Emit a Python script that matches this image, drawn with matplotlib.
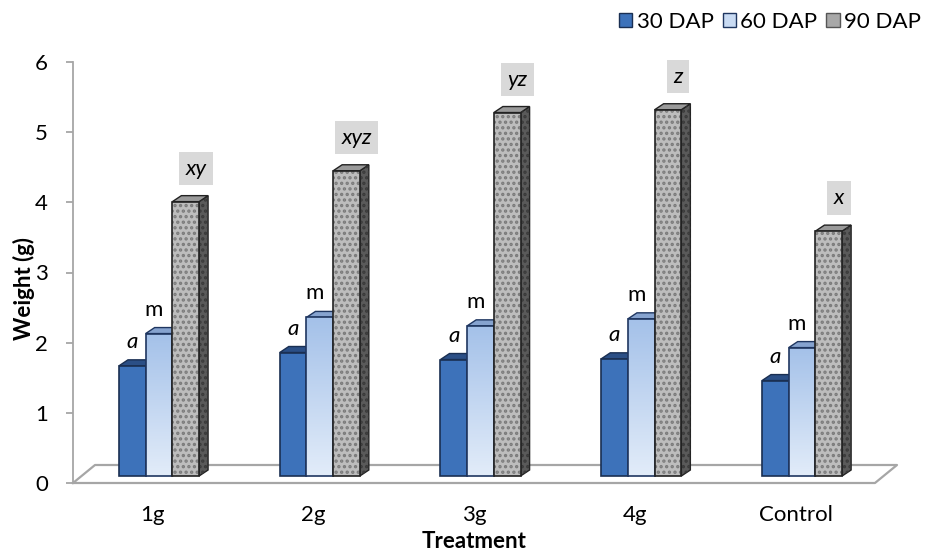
import numpy as np
import matplotlib
matplotlib.use("Agg")
import matplotlib.pyplot as plt
from matplotlib.patches import Rectangle, Polygon, Patch
from matplotlib.colors import LinearSegmentedColormap

treatments = ["1g", "2g", "3g", "4g", "Control"]
series_names = ["30 DAP", "60 DAP", "90 DAP"]
dap30 = [1.57, 1.76, 1.66, 1.67, 1.36]
dap60 = [2.03, 2.26, 2.14, 2.24, 1.83]
dap90 = [3.91, 4.35, 5.18, 5.22, 3.49]
lab30 = ["a", "a", "a", "a", "a"]
lab60 = ["m", "m", "m", "m", "m"]
lab90 = ["xy", "xyz", "yz", "z", "x"]

plt.rcParams['font.family'] = ['Lato', 'DejaVu Sans']
plt.rcParams['hatch.linewidth'] = 1.6

fig = plt.figure(figsize=(9.25, 5.53), dpi=100)
ax = fig.add_axes([73 / 925, 1 - 483 / 553, 824 / 925, 421 / 553])
x0, x1 = -0.4946, 4.631
ax.set_xlim(x0, x1)
ax.set_ylim(0, 6)

# pixel -> data helpers
px = 1 / 160.75
py = 6 / 421.0

w = 26.7 * px
dx, dy = 9 * px, 6 * py
base = 7 * py
shift = 6.5 * px

# floor
fx = [x0, 4.494, x1, x0 + 22 * px, x0]
fy = [0, 0, 18 * py, 18 * py, 0]
ax.fill(fx, fy, color="white", zorder=1, clip_on=False)
ax.plot(fx, fy, color="#a6a6a6", lw=1.6, zorder=1.5, clip_on=False)

grad60 = LinearSegmentedColormap.from_list("g60", ["#e2ecf9", "#a4c1e9"])
grad_img = np.linspace(0, 1, 100).reshape(-1, 1)

styles = [
    dict(front="#3d72ba", side="#2d5690", cap="#2b4f86", edge="#1a2f52"),
    dict(front=None, side="#7d9bc8", cap="#86a3cf", edge="#1f3660"),
    dict(front="#bdbdbd", side="#5a5a5a", cap="#9a9a9a", edge="#222222"),
]
data = [dap30, dap60, dap90]

for j, vals in enumerate(data):
    st = styles[j]
    z = 3 + j
    for i, v in enumerate(vals):
        left = i + shift - 1.5 * w + j * w
        top = base + v
        side = Polygon([(left + w, base), (left + w + dx, base + dy),
                        (left + w + dx, top + dy), (left + w, top)],
                       closed=True, facecolor=st["side"], edgecolor=st["edge"],
                       lw=1, zorder=z)
        cap = Polygon([(left, top), (left + dx, top + dy),
                       (left + w + dx, top + dy), (left + w, top)],
                      closed=True, facecolor=st["cap"], edgecolor=st["edge"],
                      lw=1, zorder=z)
        ax.add_patch(side)
        ax.add_patch(cap)
        if j == 1:
            rect = Rectangle((left, base), w, v, facecolor="none",
                             edgecolor=st["edge"], lw=1.2, zorder=z + 0.2)
            ax.add_patch(rect)
            im = ax.imshow(grad_img, cmap=grad60, origin="lower",
                           extent=[left, left + w, base, top],
                           aspect="auto", zorder=z + 0.1)
            im.set_clip_path(rect)
        elif j == 2:
            ax.add_patch(Rectangle((left, base), w, v, facecolor=st["front"],
                                   edgecolor="#7a7a7a", hatch="...", lw=0,
                                   zorder=z + 0.1))
            ax.add_patch(Polygon([(left + w, base), (left + w + dx, base + dy),
                                  (left + w + dx, top + dy), (left + w, top)],
                                 closed=True, facecolor="none",
                                 edgecolor="#3a3a3a", hatch="...", lw=0,
                                 zorder=z + 0.05))
            ax.add_patch(Rectangle((left, base), w, v, facecolor="none",
                                   edgecolor=st["edge"], lw=1.2, zorder=z + 0.2))
        else:
            ax.add_patch(Rectangle((left, base), w, v, facecolor=st["front"],
                                   edgecolor=st["edge"], lw=1.2, zorder=z + 0.2))

        cx = left + w / 2
        if j == 0:
            ax.text(cx, top + 18 * py, lab30[i], ha="center", va="baseline",
                    fontsize=16, style="italic", zorder=10)
        elif j == 1:
            ax.text(cx - 5 * px, top + 18 * py, lab60[i], ha="center",
                    va="baseline", fontsize=16, zorder=10)
        else:
            ax.text(cx + 10 * px, top + 33 * py, lab90[i], ha="center",
                    va="center", fontsize=16, style="italic", zorder=10,
                    clip_on=False,
                    bbox=dict(boxstyle="square,pad=0.3", facecolor="#d9d9d9",
                              edgecolor="none"))

ax.set_xlim(x0, x1)
ax.set_ylim(0, 6)

for s in ["top", "right", "bottom"]:
    ax.spines[s].set_visible(False)
ax.spines["left"].set_color("#a6a6a6")
ax.spines["left"].set_linewidth(1.3)
ax.set_yticks(range(7))
ax.tick_params(axis="y", length=5, width=1.3, color="#a6a6a6",
               labelsize=16, pad=13)
ax.set_xticks(range(len(treatments)))
ax.set_xticklabels(treatments)
ax.tick_params(axis="x", length=0, labelsize=16, pad=16)

fig.text(24 / 925, 1 - 288 / 553, "Weight (g)", rotation=90, ha="center",
         va="center", fontsize=16, fontweight="bold")
fig.text(474.5 / 925, 1 - 541 / 553, "Treatment", ha="center", va="center",
         fontsize=16, fontweight="bold")

handles = [
    Patch(facecolor="#3d72ba", edgecolor="#1a2f52", label=series_names[0]),
    Patch(facecolor="#c9dbf3", edgecolor="#1f3660", label=series_names[1]),
    Patch(facecolor="#a8a8a8", edgecolor="#555555", label=series_names[2]),
]
fig.legend(handles=handles, loc="center right",
           bbox_to_anchor=(921 / 925, 1 - 22 / 553), ncol=3, frameon=False,
           fontsize=16, handlelength=0.6, handleheight=0.6,
           handletextpad=0.2, columnspacing=0.4, borderpad=0,
           borderaxespad=0)

fig.savefig("out.png", dpi=100)
